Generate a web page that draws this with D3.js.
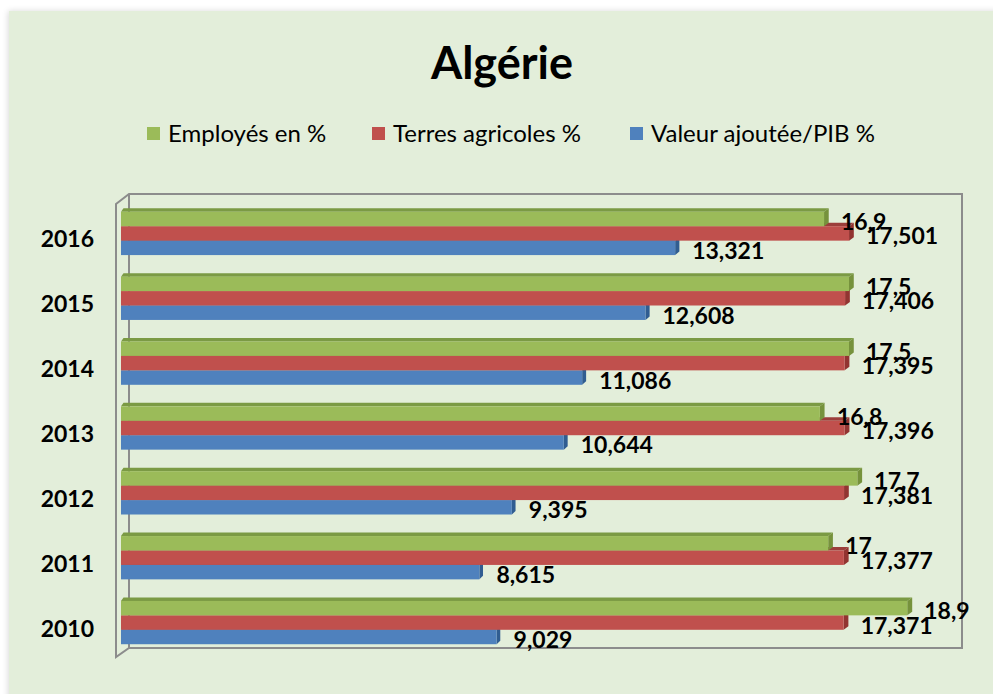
<!DOCTYPE html>
<html>
<head>
<meta charset="utf-8">
<script src="https://cdn.jsdelivr.net/npm/d3@7"></script>
<style>
  html, body { margin: 0; padding: 0; background: #ffffff; }
  svg { display: block; }
  text { font-family: Lato, "Open Sans", "DejaVu Sans", sans-serif; fill: #000; }
</style>
</head>
<body>
<svg id="chart" width="993" height="694"></svg>
<script>
const years = ["2016", "2015", "2014", "2013", "2012", "2011", "2010"];
const employes = [16.9, 17.5, 17.5, 16.8, 17.7, 17, 18.9];
const terres = [17.501, 17.406, 17.395, 17.396, 17.381, 17.377, 17.371];
const valeur = [13.321, 12.608, 11.086, 10.644, 9.395, 8.615, 9.029];
const seriesNames = ["Employés en %", "Terres agricoles %", "Valeur ajoutée/PIB %"];
const seriesColors = ["#9bbb59", "#c0504d", "#4f81bd"];
const capColors = ["#76923c", "#923431", "#305d91"];
const topColors = ["#7b9a44", "#9c3e3b", "#3a6aa0"];
const xDomain = [0, 20];

const svg = d3.select("#chart");

// panel background
const defs = svg.append("defs");
const f = defs.append("filter").attr("id", "sh").attr("x", "-5%").attr("y", "-5%").attr("width", "110%").attr("height", "110%");
f.append("feGaussianBlur").attr("in", "SourceAlpha").attr("stdDeviation", 3);
f.append("feOffset").attr("dx", -1).attr("dy", 0).attr("result", "b");
f.append("feComponentTransfer").append("feFuncA").attr("type", "linear").attr("slope", 0.15);
const fm = f.append("feMerge");
fm.append("feMergeNode");
fm.append("feMergeNode").attr("in", "SourceGraphic");

svg.append("rect").attr("x", 9).attr("y", 11).attr("width", 1000).attr("height", 700)
  .attr("fill", "#e3eeda").attr("filter", "url(#sh)");

// title
svg.append("text").attr("x", 502).attr("y", 79).attr("text-anchor", "middle")
  .style("font-size", "45px").style("font-weight", "bold").text("Algérie");

// legend
const legendX = [147, 372, 630];
seriesNames.forEach((n, i) => {
  svg.append("rect").attr("x", legendX[i]).attr("y", 127).attr("width", 13).attr("height", 13)
    .attr("fill", seriesColors[i]);
  svg.append("text").attr("x", legendX[i] + 21).attr("y", 142)
    .style("font-size", "24px").text(n);
});

// scales
const x = d3.scaleLinear().domain(xDomain).range([121, 953]);
const y = d3.scaleBand().domain(years).range([201, 655]).paddingInner(0).paddingOuter(0);
const groupH = 43.3;
const barH = groupH / 3;
const dy = 3.5;
const dxAt = px => 2.5 + (px - 121) / 832 * 2.6;

// walls
const wall = svg.append("g").attr("fill", "none").attr("stroke", "#8c8c8c").attr("stroke-width", 2);
const bx0 = 129, bx1 = 962, byTop = 194, byBot = 648, fx0 = 116, fyTop = 204, fyBot = 657;
wall.append("path").attr("d", `M${fx0},${fyTop} L${bx0},${byTop} L${bx1},${byTop} L${bx1},${byBot} L${bx0},${byBot} L${fx0},${fyBot} Z`);
wall.append("line").attr("x1", bx0).attr("y1", byTop).attr("x2", bx0).attr("y2", byBot);

// bars
const allSeries = [employes, terres, valeur];
const gBars = svg.append("g");
years.forEach((yr, ci) => {
  const gTop = y(yr) + (y.bandwidth() - groupH) / 2;
  for (let s = 2; s >= 0; s--) {
    const v = allSeries[s][ci];
    const x0 = x(0), x1 = x(v);
    const yt = gTop + s * barH, yb = yt + barH;
    const d0 = dxAt(x0), d1 = dxAt(x1);
    gBars.append("path").attr("d", `M${x0},${yt} L${x0 + d0},${yt - dy} L${x1 + d1},${yt - dy} L${x1},${yt} Z`)
      .attr("fill", topColors[s]);
    gBars.append("path").attr("d", `M${x1},${yt} L${x1 + d1},${yt - dy} L${x1 + d1},${yb - dy} L${x1},${yb} Z`)
      .attr("fill", capColors[s]);
    gBars.append("rect").attr("x", x0).attr("y", yt).attr("width", x1 - x0).attr("height", barH)
      .attr("fill", seriesColors[s]);
  }
});

// labels
const fmt = v => String(v).replace(".", ",");
years.forEach((yr, ci) => {
  const gTop = y(yr) + (y.bandwidth() - groupH) / 2;
  for (let s = 0; s < 3; s++) {
    const v = allSeries[s][ci];
    svg.append("text").attr("x", x(v) + 17).attr("y", gTop + s * barH + barH / 2 + 2)
      .attr("dominant-baseline", "central")
      .style("font-size", "23px").style("font-weight", "bold").text(fmt(v));
  }
  svg.append("text").attr("x", 94).attr("y", y(yr) + y.bandwidth() / 2 + 5)
    .attr("dominant-baseline", "central").attr("text-anchor", "end")
    .style("font-size", "23px").style("font-weight", "bold").text(yr);
});
</script>
</body>
</html>
